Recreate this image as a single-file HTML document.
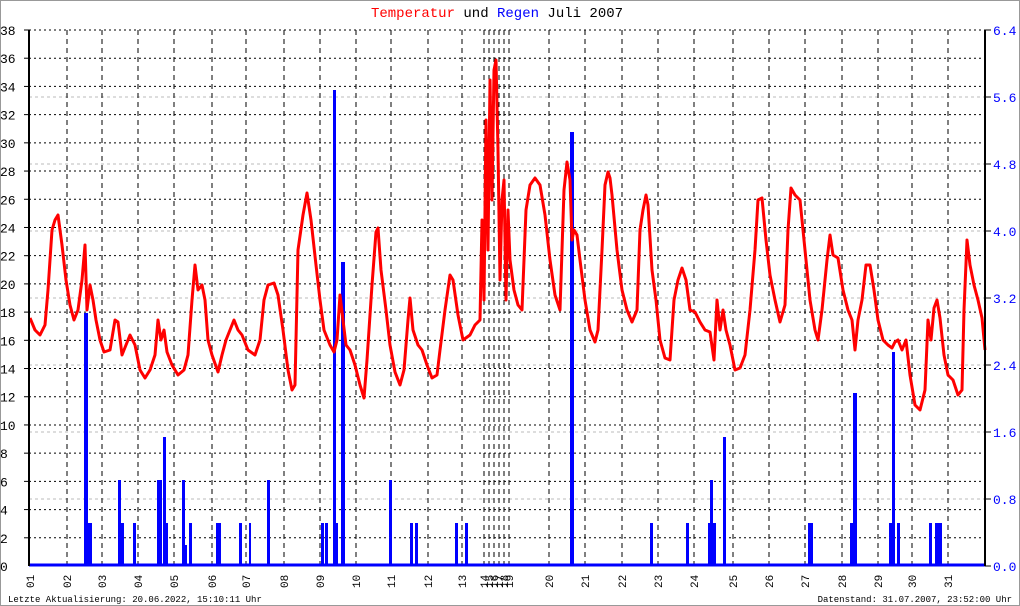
<!DOCTYPE html>
<html><head><meta charset="utf-8"><style>
body{margin:0;background:#fff}
svg{display:block;font-family:"Liberation Mono",monospace}
</style></head><body>
<svg id="s" width="1020" height="606" xmlns="http://www.w3.org/2000/svg">
<rect x="0.5" y="0.5" width="1019" height="605" fill="#fff" stroke="#999"/>
<text x="497" y="17" font-size="14" text-anchor="middle"><tspan fill="#f00">Temperatur</tspan> und <tspan fill="#00f">Regen</tspan> Juli 2007</text>
<text x="8" y="602" font-size="9">Letzte Aktualisierung: 20.06.2022, 15:10:11 Uhr</text>
<text x="1012" y="602" font-size="9" text-anchor="end">Datenstand: 31.07.2007, 23:52:00 Uhr</text>
<g id="g"></g>
</svg>
<script>
var g=document.getElementById('g'),h='';
var L=29,R=985,T=30,B=566;
for(var i=1;i<8;i++){var y=B-i*67;h+='<line x1="'+L+'" x2="'+R+'" y1="'+y+'" y2="'+y+'" stroke="#bbb" stroke-dasharray="3,3"/>';}
for(var i=1;i<=19;i++){var y=B-i*536/19;h+='<line x1="'+L+'" x2="'+R+'" y1="'+y+'" y2="'+y+'" stroke="#000" stroke-dasharray="2,3"/>';
h+='<line x1="'+(L-5)+'" x2="'+L+'" y1="'+y+'" y2="'+y+'" stroke="#000"/>';}
for(var i=0;i<=19;i++){var y=B-i*536/19;h+='<text x="0" y="'+(y+5)+'" font-size="13">'+(i*2)+'</text>';}
for(var i=0;i<=8;i++){var y=B-i*67;h+='<line x1="'+R+'" x2="'+(R+6)+'" y1="'+y+'" y2="'+y+'" stroke="#000"/><text x="993" y="'+(y+5)+'" font-size="13" fill="#00f">'+(i*0.8).toFixed(1)+'</text>';}
var xs=[30,67,102,138,174,212,246,284,320,356,391,428,462,484,489,494,499,504,509,549,585,622,658,694,733,769,805,842,878,912,948];
for(var i=0;i<xs.length;i++){var x=xs[i];if(i>0)h+='<line x1="'+x+'" x2="'+x+'" y1="'+T+'" y2="'+B+'" stroke="#000" stroke-dasharray="5,4"/>';
var lab=(i+1<10?'0':'')+(i+1);h+='<text transform="translate('+(x+4)+',588) rotate(-90)" font-size="11">'+lab+'</text>';}
var bars=[[84,4,313],[88,4,523],[118,3,480],[121,3,523],[133,3,523],[157,5,480],[163,3,437],[166,2,523],[182,3,480],[185,2,545],[189,3,523],[216,5,523],[239,3,523],[249,2,523],[267,3,480],[321,3,523],[325,3,523],[333,3,90],[336,2,523],[341,4,262],[389,3,480],[410,3,523],[415,3,523],[455,3,523],[465,3,523],[570,4,132],[650,3,523],[686,3,523],[708,3,523],[710,3,480],[713,3,523],[723,3,437],[808,5,523],[850,3,523],[853,4,393],[889,4,523],[892,3,352],[897,3,523],[929,3,523],[935,4,523],[939,3,523]];
bars.forEach(function(b){h+='<rect x="'+b[0]+'" y="'+b[2]+'" width="'+b[1]+'" height="'+(B-b[2])+'" fill="#00f"/>';});
h+='<line x1="'+L+'" x2="'+R+'" y1="'+(B-1)+'" y2="'+(B-1)+'" stroke="#00f" stroke-width="3"/>';
var p=[30,318,35,330,40,335,45,325,48,290,52,230,55,220,58,215,62,245,66,280,70,305,74,320,78,310,82,280,85,245,87,310,90,285,93,300,96,320,100,340,104,352,110,350,115,320,118,322,122,355,126,345,130,335,135,345,140,370,145,378,150,370,155,355,158,320,161,340,164,330,167,352,172,365,178,375,184,370,188,355,192,300,195,265,198,290,202,285,205,300,208,340,212,355,218,372,222,355,226,340,230,330,234,320,238,330,242,335,248,350,255,355,260,340,264,300,268,285,274,283,278,295,283,330,288,370,292,390,295,385,298,250,303,215,307,193,311,220,316,265,320,300,324,330,330,345,334,352,337,340,340,295,343,320,346,345,350,350,355,365,360,385,364,398,367,360,372,285,376,232,378,228,381,270,386,310,390,345,395,372,400,385,404,370,408,320,410,298,413,330,418,345,422,350,427,365,432,378,437,375,440,350,445,310,450,275,453,280,458,315,463,340,470,335,475,325,480,320,482,220,484,300,486,120,488,250,490,80,492,200,494,70,496,60,498,150,500,280,502,200,504,180,506,300,508,210,510,260,514,290,518,305,522,310,526,210,530,185,535,178,540,185,545,215,550,260,555,295,560,310,564,190,567,162,570,180,572,240,574,230,577,235,580,260,585,300,590,330,595,342,598,330,602,250,605,185,608,172,610,178,612,195,617,250,622,290,627,310,632,322,637,310,640,230,643,210,646,195,648,205,652,270,656,300,660,340,665,358,670,360,674,300,678,280,682,268,686,280,690,310,695,312,700,322,705,330,710,332,714,360,717,300,720,330,723,310,726,330,730,345,735,370,740,368,745,355,750,310,755,250,758,200,762,198,766,240,770,275,775,300,780,322,785,305,788,230,791,188,795,195,800,200,805,250,810,300,815,330,818,340,822,310,827,260,830,235,833,255,838,258,843,290,848,310,852,320,855,350,858,320,862,300,866,265,870,265,874,290,878,320,883,340,888,345,892,348,895,342,898,340,902,350,906,340,910,375,915,405,920,410,925,390,928,320,931,340,934,308,937,300,940,318,944,355,948,375,953,380,958,395,962,390,964,310,967,240,970,265,974,285,978,300,982,318,985,350];
h+='<polyline points="'+p.join(' ')+'" fill="none" stroke="#f00" stroke-width="3" stroke-linejoin="round"/>';
h+='<line x1="'+L+'" x2="'+L+'" y1="'+T+'" y2="'+B+'" stroke="#000" stroke-width="2"/><line x1="'+R+'" x2="'+R+'" y1="'+T+'" y2="'+B+'" stroke="#000" stroke-width="2"/>';
g.innerHTML=h;
</script>
</body></html>
